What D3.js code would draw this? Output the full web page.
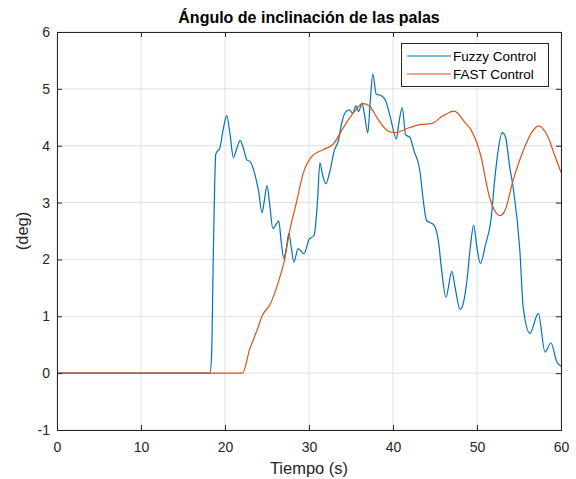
<!DOCTYPE html>
<html><head><meta charset="utf-8">
<script src="https://cdn.jsdelivr.net/npm/d3@7"></script>
<style>body{margin:0;background:#fff}svg{display:block}text{font-family:"Liberation Sans",Arial,sans-serif}</style>
</head><body>
<script>
const titleText = "Ángulo de inclinación de las palas";
const xLabel = "Tiempo (s)";
const yLabel = "(deg)";
const xTicks = [0,10,20,30,40,50,60];
const yTicks = [-1,0,1,2,3,4,5,6];
const seriesNames = ["Fuzzy Control","FAST Control"];
const seriesColors = ["#0072BD","#D95319"];

const fuzzyT = [0,18.2,18.4,18.6,18.9,19.4,19.8,20.2,20.6,21.0,21.4,21.8,22.2,22.6,23.0,23.6,24.0,24.4,24.7,25.0,25.3,25.7,26.1,26.4,26.7,27.0,27.3,27.6,27.9,28.2,28.7,29.4,30.0,30.6,31.0,31.3,31.6,32.0,32.5,33.0,33.5,33.9,34.3,34.8,35.2,35.6,35.9,36.3,36.6,37.0,37.3,37.6,38.0,38.6,39.1,39.7,40.4,40.7,41.1,41.5,42.0,42.5,43.2,43.6,44.0,44.4,44.9,45.4,45.8,46.3,47.0,47.4,48.0,48.4,48.8,49.2,49.6,50.0,50.4,51.0,51.7,52.1,52.5,53.0,53.4,53.9,54.3,55.1,55.5,56.3,57.3,58.1,58.8,59.5,60];
const fuzzyV = [0,0,0.3,2.0,3.85,3.97,4.3,4.53,4.2,3.79,3.95,4.09,3.95,3.75,3.72,3.47,3.2,2.82,3.05,3.30,3.0,2.54,2.62,2.68,2.3,2.02,2.2,2.46,2.2,1.95,2.19,2.1,2.35,2.42,3.0,3.70,3.5,3.33,3.56,3.91,4.09,4.4,4.58,4.63,4.57,4.70,4.6,4.75,4.55,4.23,4.8,5.26,4.91,4.88,4.8,4.49,4.12,4.4,4.67,4.19,4.15,3.91,3.56,3.04,2.68,2.65,2.6,2.33,1.8,1.33,1.79,1.5,1.12,1.25,1.63,2.21,2.6,2.2,1.93,2.25,2.74,3.39,3.9,4.23,4.15,3.62,3.27,2.16,1.16,0.7,1.05,0.37,0.53,0.2,0.12];

const fastT = [0,22.1,22.9,23.9,24.4,25.4,26.3,27.1,27.7,28.5,29.3,30.4,31.7,32.9,34.1,35.3,36.4,37.2,38.1,39.4,40.2,42.0,43.2,44.6,46.0,47.3,48.6,49.2,50.4,51.5,52.1,52.7,53.3,54.3,55.5,56.5,57.3,58.5,59.2,60];
const fastV = [0,0,0.4,0.79,1.0,1.22,1.58,2.0,2.5,3.0,3.51,3.82,3.93,4.03,4.32,4.58,4.74,4.7,4.49,4.26,4.23,4.32,4.37,4.39,4.53,4.61,4.4,4.3,3.85,3.09,2.86,2.77,2.85,3.39,3.91,4.23,4.35,4.14,3.85,3.53];

const W=576,H=479;
const m={l:57,r:15,t:32,b:49};
const svg=d3.select("body").append("svg").attr("width",W).attr("height",H);
const x=d3.scaleLinear().domain([0,60]).range([m.l,W-m.r]);
const y=d3.scaleLinear().domain([-1,6]).range([H-m.b,m.t]);
const ink="#262626";

// grid
svg.append("g").selectAll("line").data(xTicks).join("line")
  .attr("x1",d=>x(d)).attr("x2",d=>x(d)).attr("y1",y(-1)).attr("y2",y(6))
  .attr("stroke","#dfdfdf").attr("stroke-width",1);
svg.append("g").selectAll("line").data(yTicks).join("line")
  .attr("y1",d=>y(d)).attr("y2",d=>y(d)).attr("x1",x(0)).attr("x2",x(60))
  .attr("stroke","#dfdfdf").attr("stroke-width",1);

// lines
const line=d3.line().x(d=>x(d[0])).y(d=>y(d[1])).curve(d3.curveMonotoneX);
svg.append("clipPath").attr("id","c").append("rect")
  .attr("x",x(0)).attr("y",y(6)).attr("width",x(60)-x(0)).attr("height",y(-1)-y(6));
const series=[d3.zip(fuzzyT,fuzzyV),d3.zip(fastT,fastV)];
svg.append("g").attr("clip-path","url(#c)").selectAll("path").data(series).join("path")
  .attr("d",line).attr("fill","none").attr("stroke",(d,i)=>seriesColors[i]).attr("stroke-width",1.2);

// axes
const fs=14;
const fmt=d=>String(d);
const ax=svg.append("g").attr("transform",`translate(0,${y(-1)})`)
  .call(d3.axisBottom(x).tickValues(xTicks).tickFormat(fmt).tickSize(-5).tickPadding(12));
const ax2=svg.append("g").attr("transform",`translate(0,${y(6)})`)
  .call(d3.axisTop(x).tickValues(xTicks).tickSize(-5).tickFormat(""));
const ay=svg.append("g").attr("transform",`translate(${x(0)},0)`)
  .call(d3.axisLeft(y).tickValues(yTicks).tickFormat(fmt).tickSize(-5).tickPadding(7));
const ay2=svg.append("g").attr("transform",`translate(${x(60)},0)`)
  .call(d3.axisRight(y).tickValues(yTicks).tickSize(-5).tickFormat(""));
[ax,ax2,ay,ay2].forEach(g=>{
  g.select(".domain").attr("stroke",ink).attr("stroke-width",1);
  g.selectAll(".tick line").attr("stroke",ink);
  g.selectAll("text").attr("fill",ink).style("font-size",fs+"px").style("font-family","'Liberation Sans',Arial,sans-serif");
});

// title and labels
svg.append("text").attr("x",(x(0)+x(60))/2).attr("y",23).attr("text-anchor","middle")
  .attr("font-weight","bold").attr("font-size",16).attr("fill","#000").text(titleText);
svg.append("text").attr("x",(x(0)+x(60))/2).attr("y",474).attr("text-anchor","middle")
  .attr("font-size",16.5).attr("fill",ink).text(xLabel);
svg.append("text").attr("transform",`translate(28,${(y(-1)+y(6))/2}) rotate(-90)`).attr("text-anchor","middle")
  .attr("font-size",16.5).attr("fill",ink).text(yLabel);

// legend
const lg=svg.append("g");
lg.append("rect").attr("x",401.5).attr("y",43.5).attr("width",147).attr("height",43)
  .attr("fill","#fff").attr("stroke",ink).attr("stroke-width",1);
seriesNames.forEach((n,i)=>{
  const yy=56+i*18;
  lg.append("line").attr("x1",407).attr("x2",451).attr("y1",yy).attr("y2",yy)
    .attr("stroke",seriesColors[i]).attr("stroke-width",1.2);
  lg.append("text").attr("x",453).attr("y",yy+4.5).attr("font-size",13.5).attr("fill","#000").text(n);
});
</script>
</body></html>
